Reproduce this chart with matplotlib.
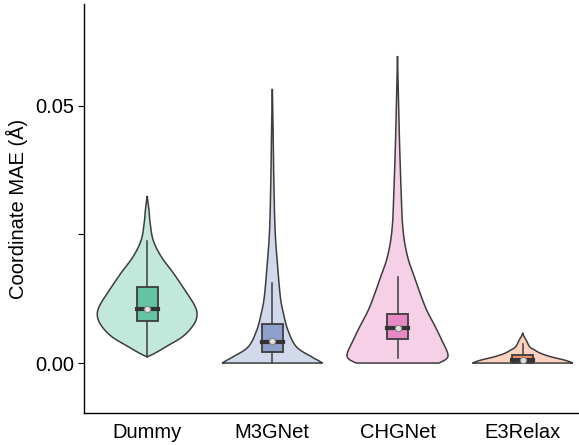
import numpy as np
import matplotlib
matplotlib.use("Agg")
import matplotlib.pyplot as plt

plt.rcParams['font.family'] = ['Liberation Sans', 'DejaVu Sans']

models = ['Dummy', 'M3GNet', 'CHGNet', 'E3Relax']
light = ['#c2e7db', '#d1d9ea', '#f5d0e7', '#fed1c0']
dark = ['#66c2a5', '#8da0cb', '#e78ac3', '#fc8d62']

# violin outlines: y value (Å) and half width (x units)
dummy_y = [0.0012, 0.0019, 0.0032, 0.0051, 0.0071, 0.0090, 0.0110, 0.0142, 0.0175, 0.0207, 0.0239, 0.0272, 0.0298, 0.0325]
dummy_w = [0.0, 0.060, 0.152, 0.281, 0.361, 0.397, 0.383, 0.301, 0.209, 0.112, 0.048, 0.024, 0.014, 0.0]
m3g_y = [0.0, 0.00058, 0.00123, 0.00317, 0.00642, 0.00973, 0.0129, 0.0195, 0.0259, 0.0356, 0.0453, 0.0533]
m3g_w = [0.401, 0.361, 0.313, 0.192, 0.124, 0.088, 0.064, 0.040, 0.022, 0.012, 0.006, 0.0]
chg_y = [0.0, 0.0008, 0.0019, 0.0045, 0.0071, 0.0103, 0.0136, 0.0168, 0.0200, 0.0233, 0.0265, 0.0300, 0.0414, 0.0511, 0.0597]
chg_w = [0.33, 0.39, 0.401, 0.353, 0.301, 0.233, 0.180, 0.134, 0.088, 0.058, 0.042, 0.034, 0.018, 0.008, 0.0]
e3r_y = [0.0, 0.00053, 0.00123, 0.00189, 0.00253, 0.00317, 0.00447, 0.0053, 0.0059]
e3r_w = [0.401, 0.341, 0.225, 0.144, 0.096, 0.056, 0.028, 0.008, 0.0]

# box statistics
whislo = [0.0012, 0.0, 0.0009, 0.0]
q1 = [0.0082, 0.0022, 0.0046, 0.0001]
med = [0.0105, 0.0041, 0.0068, 0.0006]
q3 = [0.0147, 0.0076, 0.0095, 0.0016]
whishi = [0.0238, 0.0155, 0.0168, 0.0038]
means = [0.0106, 0.0042, 0.0068, 0.0006]

outlines = [(dummy_y, dummy_w), (m3g_y, m3g_w), (chg_y, chg_w), (e3r_y, e3r_w)]


def smooth(ys, ws, n=20):
    # catmull-rom through the read points, just for a rounder outline
    p = np.column_stack([ws, ys])
    p = np.vstack([p[0], p, p[-1]])
    t = np.linspace(0, 1, n, endpoint=False)[:, None]
    out = []
    for i in range(1, len(p) - 2):
        p0, p1, p2, p3 = p[i - 1], p[i], p[i + 1], p[i + 2]
        seg = 0.5 * (2 * p1 + (p2 - p0) * t + (2 * p0 - 5 * p1 + 4 * p2 - p3) * t ** 2
                     + (-p0 + 3 * p1 - 3 * p2 + p3) * t ** 3)
        out.append(seg)
    out.append(p[-2][None])
    s = np.vstack(out)
    return s[:, 1], np.clip(s[:, 0], 0, None)


fig = plt.figure(figsize=(5.79, 4.45), dpi=100)
ax = fig.add_axes([0.145, 0.072, 0.855, 0.919])

edge = '#3d3d3d'
for i, (ys, ws) in enumerate(outlines):
    sy, sw = smooth(ys, ws)
    x = np.concatenate([i + sw, (i - sw)[::-1]])
    y = np.concatenate([sy, sy[::-1]])
    ax.fill(x, y, facecolor=light[i], edgecolor=edge, linewidth=1.1, zorder=1)

stats = []
for i in range(len(models)):
    stats.append(dict(med=med[i], q1=q1[i], q3=q3[i], whislo=whislo[i],
                      whishi=whishi[i], mean=means[i], fliers=[]))

bp = ax.bxp(stats, positions=range(len(models)), widths=0.17, patch_artist=True,
            showfliers=False, showcaps=False, showmeans=True, manage_ticks=False,
            boxprops=dict(edgecolor=edge, linewidth=1.3),
            whiskerprops=dict(color=edge, linewidth=1.1),
            medianprops=dict(color='#333333', linewidth=3, solid_capstyle='projecting'),
            meanprops=dict(marker='o', markersize=4.5, markerfacecolor='#e0e0e0',
                           markeredgecolor='#888888', markeredgewidth=0.8))
for patch, c in zip(bp['boxes'], dark):
    patch.set_facecolor(c)
for artist in bp['boxes'] + bp['whiskers'] + bp['medians'] + bp['means']:
    artist.set_zorder(3)

ax.set_xlim(-0.505, 3.45)
ax.set_ylim(-0.0097, 0.0698)
ax.set_xticks(range(len(models)))
ax.set_xticklabels(models, fontsize=14.5)
ax.tick_params(axis='x', length=0, pad=7)
ax.set_yticks([0.0, 0.025, 0.05])
ax.set_yticklabels(['0.00', '', '0.05'], fontsize=14.5)
ax.tick_params(axis='y', length=4, width=0.8, direction='out', pad=3)
ax.set_ylabel('Coordinate MAE (Å)', fontsize=14.5, labelpad=5)

for s in ['top', 'right']:
    ax.spines[s].set_visible(False)
for s in ['left', 'bottom']:
    ax.spines[s].set_linewidth(1.0)

fig.savefig('out.png', dpi=100)
